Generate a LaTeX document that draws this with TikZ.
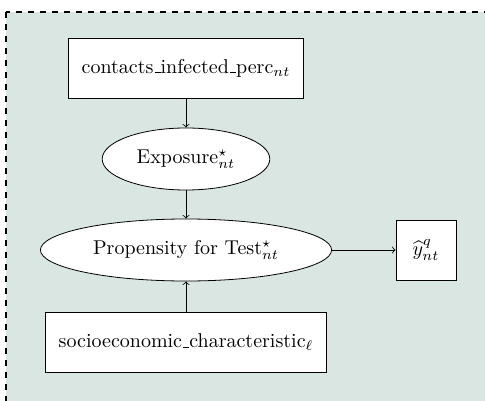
\documentclass[tikz,border=0pt]{standalone}
\usepackage{amsmath, amssymb}
\usetikzlibrary{shapes,positioning}
\definecolor{panelbg}{RGB}{217,230,225}
\newcommand{\uscore}{\leavevmode\kern.06em\vbox{\hrule width.3em}}
\tikzset{
    varbox/.style={
        draw,
        rectangle,
        fill=white,
        minimum height=30pt,
        inner xsep=6.75pt
    },
    latent/.style={
        draw,
        ellipse,
        fill=white,
        minimum height=31pt,
        inner sep=5pt
    }
}

\begin{document}
\begin{tikzpicture}[x=0.5pt, y=-0.5pt]
    \useasboundingbox (0,0) rectangle (485,400);
    % Panel
    \draw[thick, dashed, fill=panelbg] (6,12) rectangle (530,450);

    % Nodes
    \node[varbox] (contacts) at (186,68) {contacts\uscore infected\uscore perc$_{nt}$};
    \node[latent] (exposure) at (186,159) {Exposure$^{\star}_{nt}$};
    \node[latent] (propensity) at (186,250) {Propensity for Test$^{\star}_{nt}$};
    \node[varbox, minimum size=30pt, inner xsep=4pt] (yhat) at (426,250) {$\widehat{y}^{q}_{nt}$};
    \node[varbox] (socio) at (186,342) {socioeconomic\uscore characteristic$_{\ell}$};

    % Edges
    \draw[->] (contacts) -- (exposure);
    \draw[->] (exposure) -- (propensity);
    \draw[->] (socio) -- (propensity);
    \draw[->] (propensity) -- (yhat);
\end{tikzpicture}
\end{document}
